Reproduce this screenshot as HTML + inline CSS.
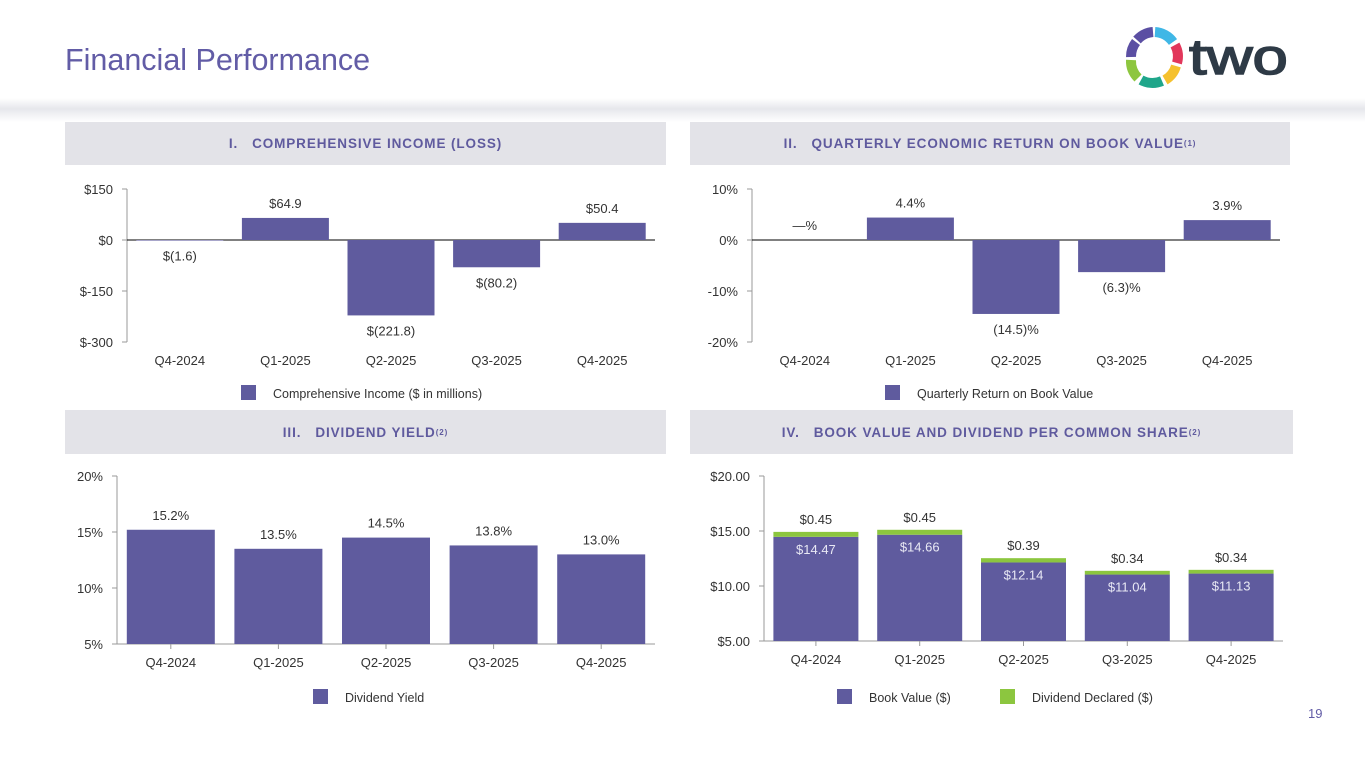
<!DOCTYPE html>
<html><head><meta charset="utf-8">
<style>
body{margin:0;width:1365px;height:768px;background:#fff;font-family:"Liberation Sans",sans-serif;overflow:hidden;position:relative}
.hdr{position:absolute;background:#e3e3e8;color:#5f5a9e;font-weight:bold;font-size:13.5px;display:flex;align-items:center;justify-content:center;letter-spacing:0.9px}
sup{font-size:8px}
</style></head><body>
<div style="position:absolute;left:0;top:98px;width:1365px;height:24px;background:linear-gradient(#fff,#e6e7ec 45%,#fff)"></div>
<div style="position:absolute;left:65px;top:43px;font-size:30.5px;color:#625ca6">Financial Performance</div>
<svg style="position:absolute;left:1105px;top:18px" width="200" height="80">
<g fill="none" stroke-width="10">
<path d="M32 22 A24 24 0 0 1 48 14" stroke="#5b4fa3"/>
<path d="M50 14 A24 24 0 0 1 68 24" stroke="#3fb7e6"/>
<path d="M70 27 A24 24 0 0 1 72 45" stroke="#e2375b"/>
<path d="M71 48 A24 24 0 0 1 60 62" stroke="#f5c12e"/>
<path d="M57 63 A24 24 0 0 1 36 62" stroke="#1fa68a"/>
<path d="M33 60 A24 24 0 0 1 26 42" stroke="#8dc63f"/>
<path d="M26 39 A24 24 0 0 1 31 24" stroke="#5b4fa3"/>
</g>
<text x="0" y="0" font-size="50" fill="#2e3a46" stroke="#2e3a46" stroke-width="1.5" font-family="Liberation Sans" transform="translate(84,56) scale(1.27,1)">two</text>
</svg>
<div class="hdr" style="left:65px;top:122px;width:601px;height:43px">I.&nbsp;&nbsp; COMPREHENSIVE INCOME (LOSS)</div>
<div class="hdr" style="left:690px;top:122px;width:600px;height:43px">II.&nbsp;&nbsp; QUARTERLY ECONOMIC RETURN ON BOOK VALUE<sup>(1)</sup></div>
<div class="hdr" style="left:65px;top:410px;width:601px;height:44px">III.&nbsp;&nbsp; DIVIDEND YIELD<sup>(2)</sup></div>
<div class="hdr" style="left:690px;top:410px;width:603px;height:44px">IV.&nbsp;&nbsp; BOOK VALUE AND DIVIDEND PER COMMON SHARE<sup>(2)</sup></div>
<div style="position:absolute;left:1308px;top:706px;font-size:13px;color:#625ca6">19</div>
<svg id="s" width="1365" height="768" style="position:absolute;left:0;top:0"></svg>
<script>
const categories=["Q4-2024","Q1-2025","Q2-2025","Q3-2025","Q4-2025"];
const incomeValues=[-1.6,64.9,-221.8,-80.2,50.4];
const incomeLabels=["$(1.6)","$64.9","$(221.8)","$(80.2)","$50.4"];
const incomeTicks=[150,0,-150,-300];
const incomeTickLabels=["$150","$0","$-150","$-300"];
const returnValues=[0,4.4,-14.5,-6.3,3.9];
const returnLabels=["—%","4.4%","(14.5)%","(6.3)%","3.9%"];
const returnTicks=[10,0,-10,-20];
const returnTickLabels=["10%","0%","-10%","-20%"];
const yieldValues=[15.2,13.5,14.5,13.8,13.0];
const yieldLabels=["15.2%","13.5%","14.5%","13.8%","13.0%"];
const yieldTicks=[20,15,10,5];
const yieldTickLabels=["20%","15%","10%","5%"];
const bookValues=[14.47,14.66,12.14,11.04,11.13];
const dividendValues=[0.45,0.45,0.39,0.34,0.34];
const bvTicks=[20,15,10,5];
const bvTickLabels=["$20.00","$15.00","$10.00","$5.00"];

const S=document.getElementById('s');const NS='http://www.w3.org/2000/svg';
const PURPLE='#5f5b9e',GREEN='#8cc63f',TXT='#333';
function el(t,a,txt){const e=document.createElementNS(NS,t);for(const k in a)e.setAttribute(k,a[k]);if(txt!==undefined)e.textContent=txt;S.appendChild(e);return e;}
function chart(c){
 const y=v=>c.y0+(c.max-v)/(c.max-c.min)*(c.y1-c.y0);
 const step=(c.x1-c.x0)/categories.length;
 const x=i=>c.x0+step*(i+0.5);
 const ax=el('line',{x1:c.x0,y1:c.y0,x2:c.x0,y2:c.y1,stroke:'#999'});
 
 c.ticks.forEach((t,i)=>{
  el('line',{x1:c.x0-5,y1:y(t),x2:c.x0,y2:y(t),stroke:'#999'});
  const tl=el('text',{x:c.x0-14,y:y(t)+5,'text-anchor':'end','font-size':13,fill:TXT},c.tickLabels[i]);
  
 });
 const base=c.min<0?0:c.min;
 const xl=el('line',{x1:c.x0,y1:y(base),x2:c.x1,y2:y(base),stroke:c.min<0?'#000':'#999'});
 
 categories.forEach((cat,i)=>{
  const v=c.vals[i];const top=Math.min(y(v),y(base)),h=Math.abs(y(v)-y(base));
  const b=el('rect',{x:x(i)-c.bw/2,y:top,width:c.bw,height:h,fill:PURPLE});
  
  if(c.min>=0)el('line',{x1:x(i),y1:y(base),x2:x(i),y2:y(base)+5,stroke:'#999'});
  const t=el('text',{x:x(i),y:c.y1+23,'text-anchor':'middle','font-size':13,fill:TXT},cat);
  
  if(c.labels){
   const ly=v>=0?y(v)-10:y(v)+20;
   const l=el('text',{x:x(i),y:ly,'text-anchor':'middle','font-size':13,fill:TXT},c.labels[i]);
   
  }
  if(c.div){
   const d=c.div[i];
   const g=el('rect',{x:x(i)-c.bw/2,y:y(v+d),width:c.bw,height:y(v)-y(v+d),fill:GREEN});
   
   const dl=el('text',{x:x(i),y:y(v+d)-8,'text-anchor':'middle','font-size':13,fill:TXT},'$'+d.toFixed(2));
   
   const bl=el('text',{x:x(i),y:y(v)+17,'text-anchor':'middle','font-size':13,fill:'#e8e8f4'},'$'+v.toFixed(2));
   
  }
 });
 c.legend.forEach(L=>{
  const r=el('rect',{x:L.x,y:c.ly-8,width:15,height:15,fill:L.c});
  
  const t=el('text',{x:L.x+32,y:c.ly+5,'font-size':12.5,fill:TXT},L.t);
  
 });
}
chart({n:'income',x0:127,x1:655,y0:189,y1:342,max:150,min:-300,vals:incomeValues,labels:incomeLabels,ticks:incomeTicks,tickLabels:incomeTickLabels,bw:87,ly:393,legend:[{x:241,c:PURPLE,t:'Comprehensive Income ($ in millions)'}]});
chart({n:'return',x0:752,x1:1280,y0:189,y1:342,max:10,min:-20,vals:returnValues,labels:returnLabels,ticks:returnTicks,tickLabels:returnTickLabels,bw:87,ly:393,legend:[{x:885,c:PURPLE,t:'Quarterly Return on Book Value'}]});
chart({n:'yield',x0:117,x1:655,y0:476,y1:644,max:20,min:5,vals:yieldValues,labels:yieldLabels,ticks:yieldTicks,tickLabels:yieldTickLabels,bw:88,ly:697,legend:[{x:313,c:PURPLE,t:'Dividend Yield'}]});
chart({n:'bookvalue',x0:764,x1:1283,y0:476,y1:641,max:20,min:5,vals:bookValues,div:dividendValues,ticks:bvTicks,tickLabels:bvTickLabels,bw:85,ly:697,legend:[{x:837,c:PURPLE,t:'Book Value ($)'},{x:1000,c:GREEN,t:'Dividend Declared ($)'}]});
</script>
</body></html>
